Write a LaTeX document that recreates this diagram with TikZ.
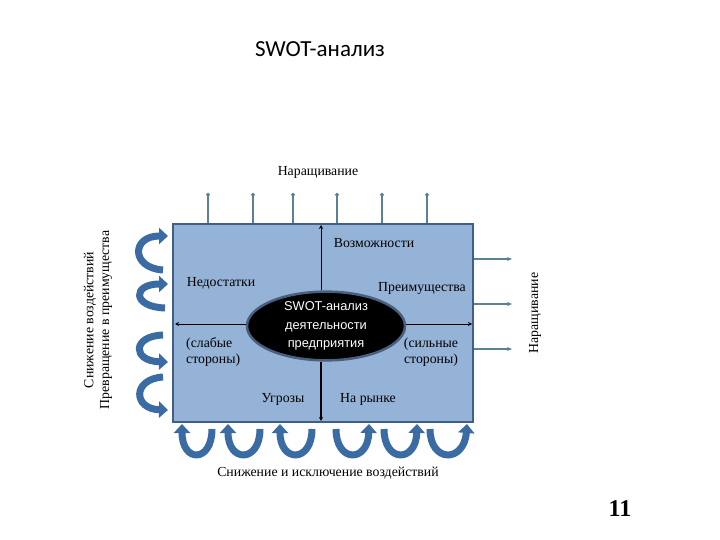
\documentclass[tikz,border=0pt]{standalone}
\usepackage{fontspec}
\setmainfont{Liberation Serif}
\newfontfamily\titlefont{Carlito}
\newfontfamily\corefont{Liberation Sans}
\usetikzlibrary{arrows.meta,shapes.geometric}
\definecolor{fieldfill}{HTML}{95B3D7}
\definecolor{fielddraw}{HTML}{3F5F86}
\definecolor{arrowblue}{HTML}{3A6CA3}
\definecolor{pincol}{HTML}{5B8197}
\definecolor{coreedge}{HTML}{4A5F7E}
\tikzset{
  lbl/.style={font=\fontsize{13.8}{15.5}\selectfont, inner sep=0pt},
  field/.style={draw=fielddraw, line width=2pt, fill=fieldfill, rectangle, inner sep=0pt},
  core/.style={ellipse, fill=black, draw=coreedge, line width=2.5pt, text=white, align=center, inner sep=0pt,
    font=\corefont\fontsize{12.8}{18.5}\selectfont},
  crossline/.style={draw=black, line width=0.9pt, -{Stealth[length=4pt,width=4pt]}},
  pinup/.style={draw=pincol, line width=1.3pt, -{Circle[length=3.5pt]}},
  pinright/.style={draw=pincol, line width=1.3pt, -{Stealth[length=5pt,width=4pt]}},
  curv/.style={draw=arrowblue, line width=7pt, -{Triangle[length=9pt,width=16pt]}},
}
\begin{document}
\begin{tikzpicture}[x=1pt,y=-1pt]
\useasboundingbox[fill=white] (0,0) rectangle (720,540);

% title
\node[font=\titlefont\fontsize{23}{26}\selectfont, inner sep=0pt] (title) at (320,49) {SWOT-анализ};

% main field
\node[field, minimum width=300pt, minimum height=198pt] (field) at (323,323) {};

% cross coordinates
\coordinate (ctop) at (321,225);
\coordinate (cbot) at (321,421);
\coordinate (cleft) at (175,324);
\coordinate (cright) at (472,324);

% core ellipse
\node[core, minimum width=158pt, minimum height=67pt] (core) at (326,326)
  {SWOT-анализ\\деятельности\\предприятия};

% cross lines
\draw[crossline] (core.north -| ctop) -- (ctop);
\draw[crossline, line width=2pt] (core.south -| cbot) -- (cbot);
\draw[crossline] (core.west |- cleft) -- (cleft);
\draw[crossline] (core.east |- cright) -- (cright);

% field labels
\node[lbl] (opp) at (374,243) {Возможности};
\node[lbl] (weak) at (221,283) {Недостатки};
\node[lbl] (str) at (422,288) {Преимущества};
\node[lbl, anchor=west, align=left] (weak2) at (186,352) {(слабые\\стороны)};
\node[lbl, align=center] (str2) at (431,352) {(сильные\\стороны)};
\node[lbl] (thr) at (283,399) {Угрозы};
\node[lbl] (mkt) at (368,399) {На рынке};

% outside labels
\node[lbl] (topl) at (318,172) {Наращивание};
\node[lbl] (botl) at (328,473) {Снижение и исключение воздействий};
\node[lbl, rotate=90] (left1) at (90,320) {Снижение воздействий};
\node[lbl, rotate=90] (left2) at (106,320) {Превращение в преимущества};
\node[lbl, rotate=90] (rightl) at (535,313) {Наращивание};

% page number
\node[font=\bfseries\fontsize{24}{28}\selectfont, inner sep=0pt] (pg) at (620,509) {11};

% top pins
\foreach \i/\x in {1/208,2/253,3/293,4/337,5/382,6/427}{
  \coordinate (p\i) at (\x,193);
  \draw[pinup] (field.north -| p\i) -- (p\i);
}
% right pins
\foreach \i/\y in {1/259,2/304,3/349}{
  \coordinate (r\i) at (512,\y);
  \draw[pinright] (field.east |- r\i) -- (r\i);
}

% left curved arrows
\draw[curv] (163,270) .. controls (131,268) and (131,236) .. (168,236);
\draw[curv] (165,308) .. controls (132,307) and (132,284) .. (168,284);
\draw[curv] (163,335) .. controls (132,336) and (132,361) .. (168,362);
\draw[curv] (163,377) .. controls (132,379) and (133,409) .. (168,410);

% bottom curved arrows
\draw[curv] (212,429) .. controls (212,463) and (182,463) .. (182,424);
\draw[curv] (260,429) .. controls (260,463) and (228,463) .. (228,424);
\draw[curv] (312,429) .. controls (312,463) and (280,463) .. (280,424);
\draw[curv] (336,429) .. controls (336,463) and (368,463) .. (369,424);
\draw[curv] (384,429) .. controls (384,463) and (416,463) .. (417,424);
\draw[curv] (430,429) .. controls (430,463) and (464,463) .. (467,424);
\end{tikzpicture}
\end{document}
